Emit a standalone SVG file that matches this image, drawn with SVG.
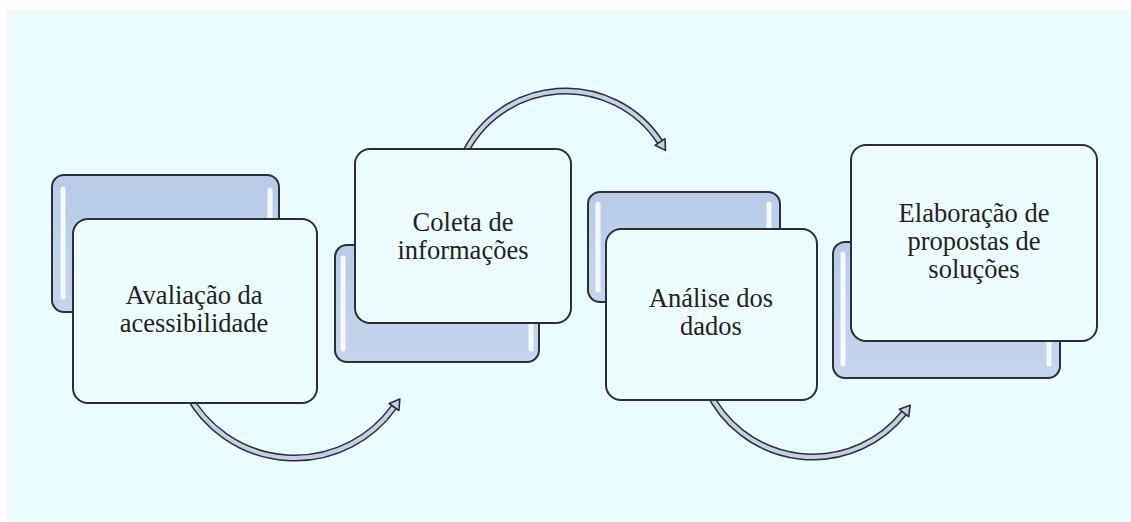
<svg xmlns="http://www.w3.org/2000/svg" width="1131" height="522" viewBox="0 0 1131 522">
<defs>
<linearGradient id="backGrad" x1="0" y1="0" x2="0" y2="1">
<stop offset="0" stop-color="#b7cbe8"/>
<stop offset="1" stop-color="#c6d5ee"/>
</linearGradient>
<style>
.back{fill:url(#backGrad);stroke:#2b3035;stroke-width:2}
.front{fill:#edfdfd;stroke:#2b3035;stroke-width:2}
.hl{stroke:#f4f9ff;stroke-width:5;stroke-linecap:round;fill:none}
.lbl{font-family:'Liberation Serif','Times New Roman','DejaVu Serif',serif;font-size:26.5px;fill:#222;text-anchor:middle}
.bandOut{fill:none;stroke:#2b2f36;stroke-width:7}
.bandIn{fill:none;stroke:#c6cfe8;stroke-width:4}
.head{fill:#c6cfe8;stroke:#2b2f36;stroke-width:1.6;stroke-linejoin:round}
</style>
</defs>
<rect x="0" y="0" width="1131" height="522" fill="#ffffff"/>
<rect x="7" y="10" width="1124" height="512" fill="#eafcfd"/>

<g id="connectors">
<g id="arrow1">
<path class="bandOut" d="M 187.3 393.3 A 121.8 121.8 0 0 0 394 407"/>
<path class="bandIn" d="M 187.3 393.3 A 121.8 121.8 0 0 0 394 407"/>
<polygon class="head" points="399.8,398.9 398.9,410.5 389.1,403.5"/>
</g>
<g id="arrow2">
<path class="bandOut" d="M 463.4 156.1 A 112.8 112.8 0 0 1 660 142"/>
<path class="bandIn" d="M 463.4 156.1 A 112.8 112.8 0 0 1 660 142"/>
<polygon class="head" points="665.5,150.4 665,138.7 655,145.3"/>
</g>
<g id="arrow3">
<path class="bandOut" d="M 707.7 389.9 A 116.2 116.2 0 0 0 904 413"/>
<path class="bandIn" d="M 707.7 389.9 A 116.2 116.2 0 0 0 904 413"/>
<polygon class="head" points="910.2,405.2 908.7,416.7 899.3,409.3"/>
</g>
</g>

<g id="node1">
<rect class="back" x="52" y="175" width="227" height="137" rx="12"/>
<line class="hl" x1="63" y1="189" x2="63" y2="297"/>
<line class="hl" x1="270" y1="190" x2="270" y2="297"/>
<rect class="front" x="73" y="219" width="244" height="184" rx="15"/>
<text class="lbl" font-family="Liberation Serif, serif" x="194" y="304">Avaliação da</text>
<text class="lbl" font-family="Liberation Serif, serif" x="194" y="332">acessibilidade</text>
</g>

<g id="node2">
<rect class="back" x="335" y="245" width="204" height="117" rx="12"/>
<line class="hl" x1="343" y1="258" x2="343" y2="349"/>
<line class="hl" x1="531" y1="258" x2="531" y2="349"/>
<rect class="front" x="355" y="149" width="216" height="174" rx="15"/>
<text class="lbl" font-family="Liberation Serif, serif" x="463" y="231">Coleta de</text>
<text class="lbl" font-family="Liberation Serif, serif" x="463" y="259">informações</text>
</g>

<g id="node3">
<rect class="back" x="588" y="192" width="192" height="110" rx="12"/>
<line class="hl" x1="598" y1="204" x2="598" y2="290"/>
<line class="hl" x1="769" y1="204" x2="769" y2="290"/>
<rect class="front" x="606" y="229" width="211" height="171" rx="15"/>
<text class="lbl" font-family="Liberation Serif, serif" x="711" y="307">Análise dos</text>
<text class="lbl" font-family="Liberation Serif, serif" x="711" y="335">dados</text>
</g>

<g id="node4">
<rect class="back" x="833" y="242" width="227" height="136" rx="12"/>
<line class="hl" x1="843" y1="254" x2="843" y2="364"/>
<line class="hl" x1="1049" y1="254" x2="1049" y2="364"/>
<rect class="front" x="851" y="145" width="246" height="196" rx="15"/>
<text class="lbl" font-family="Liberation Serif, serif" x="974" y="222">Elaboração de</text>
<text class="lbl" font-family="Liberation Serif, serif" x="974" y="250">propostas de</text>
<text class="lbl" font-family="Liberation Serif, serif" x="974" y="278">soluções</text>
</g>
</svg>
